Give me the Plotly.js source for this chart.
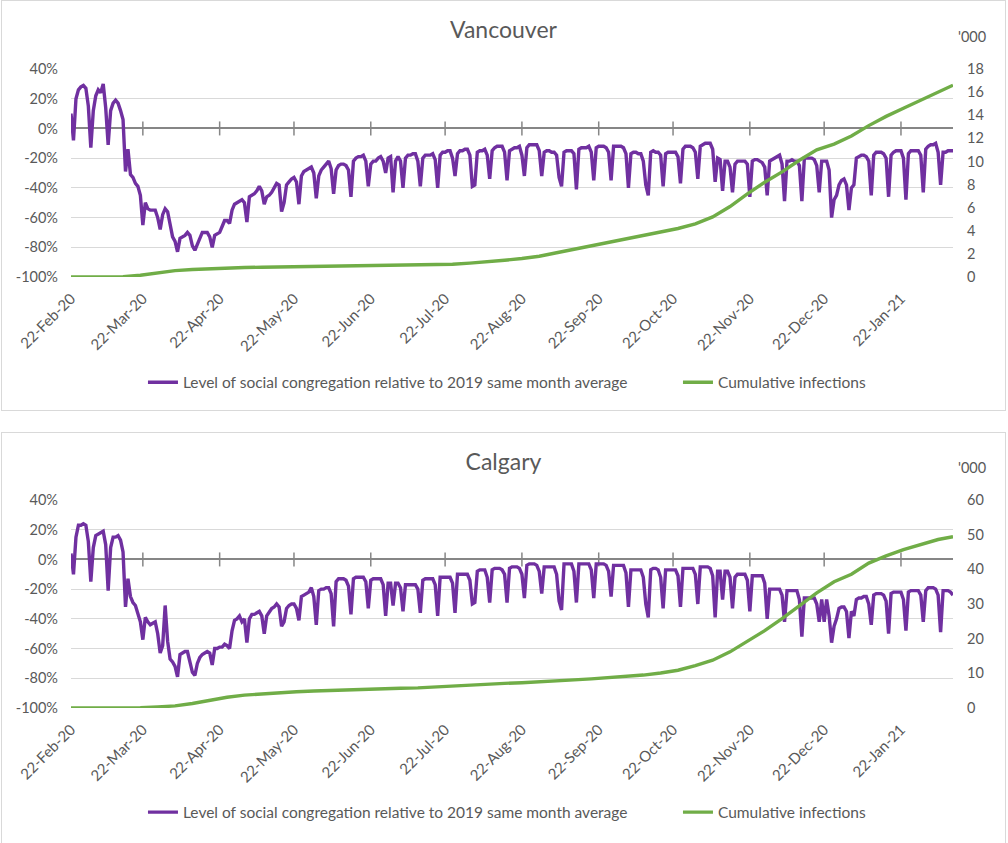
<!DOCTYPE html>
<html><head><meta charset="utf-8">
<script src="https://cdn.plot.ly/plotly-3.0.1.min.js"></script>
<style>
html,body{margin:0;padding:0;background:#fff;width:1008px;height:843px;overflow:hidden;}
.panel{position:absolute;left:1px;width:1005px;box-sizing:border-box;border:1px solid #d9d9d9;background:#fff;}
.panel > div{width:1003px;}
</style></head><body>
<div class="panel" style="top:0;height:411px;"><div id="van" style="height:409px"></div></div>
<div class="panel" style="top:432px;height:412px;"><div id="cal" style="height:410px"></div></div>
<script>
// ---- data ----
const seriesNames = ['Level of social congregation relative to 2019 same month average', 'Cumulative infections'];
const cityTitles = ['Vancouver', 'Calgary'];

// daily values from 22-Feb-2020 (%, relative to 2019 same month average)
const vanCongregation = [
  10, -8, 20, 26, 28, 29, 27,
  15, -13, 12, 22, 26, 24, 30,
  14, -11, 12, 17, 19, 17, 12,
  6, -29, -14, -31, -33, -37, -39,
  -45, -65, -50, -54, -55, -55, -55,
  -60, -68, -58, -54, -56, -66, -73,
  -76, -83, -74, -73, -72, -70, -72,
  -79, -82, -78, -74, -70, -70, -70,
  -73, -80, -72, -71, -70, -66, -62,
  -62, -64, -55, -51, -50, -49, -48,
  -50, -63, -46, -45, -44, -42, -39,
  -42, -51, -46, -45, -43, -40, -37,
  -38, -56, -50, -38, -36, -34, -33,
  -36, -51, -32, -29, -28, -27, -26,
  -30, -47, -32, -28, -26, -24, -22,
  -27, -44, -28, -25, -24, -24, -25,
  -28, -46, -22, -20, -19, -19, -18,
  -22, -39, -24, -22, -22, -20, -19,
  -22, -30, -20, -19, -43, -22, -19,
  -22, -40, -20, -18, -18, -17, -17,
  -22, -39, -20, -18, -18, -18, -17,
  -21, -40, -18, -16, -16, -15, -15,
  -20, -32, -17, -15, -15, -14, -14,
  -18, -39, -38, -16, -15, -15, -14,
  -18, -34, -15, -13, -12, -12, -12,
  -16, -35, -15, -14, -13, -13, -12,
  -18, -32, -13, -11, -11, -11, -11,
  -15, -32, -16, -15, -15, -16, -16,
  -18, -33, -39, -16, -15, -15, -15,
  -17, -41, -14, -13, -13, -13, -12,
  -16, -35, -13, -12, -12, -12, -13,
  -16, -35, -12, -12, -12, -12, -13,
  -17, -40, -17, -16, -16, -17, -17,
  -22, -38, -45, -16, -15, -16, -16,
  -18, -39, -17, -16, -16, -16, -16,
  -19, -37, -14, -12, -12, -12, -13,
  -16, -34, -12, -11, -10, -10, -10,
  -14, -36, -20, -21, -42, -22, -22,
  -26, -43, -24, -22, -22, -22, -22,
  -24, -46, -22, -21, -21, -22, -23,
  -26, -45, -22, -21, -20, -19, -18,
  -24, -49, -22, -22, -21, -22, -22,
  -25, -49, -20, -20, -20, -20, -21,
  -25, -43, -22, -22, -22, -28, -60,
  -48, -45, -38, -35, -34, -38, -55,
  -40, -38, -20, -19, -18, -18, -19,
  -22, -45, -18, -16, -16, -16, -17,
  -20, -46, -18, -16, -15, -15, -15,
  -20, -48, -17, -15, -15, -15, -15,
  -18, -43, -14, -12, -11, -11, -10,
  -16, -38, -16, -16, -15, -15, -15
];

const calCongregation = [
  4, -10, 15, 23, 23, 24, 23,
  12, -15, 8, 16, 17, 18, 19,
  10, -21, 8, 15, 15, 16, 13,
  5, -32, -13, -25, -29, -31, -36,
  -42, -54, -39, -42, -44, -43, -42,
  -50, -63, -58, -31, -55, -67, -69,
  -72, -79, -64, -63, -62, -62, -70,
  -76, -78, -70, -66, -64, -63, -62,
  -63, -71, -60, -60, -59, -59, -57,
  -58, -60, -48, -41, -40, -38, -42,
  -40, -56, -40, -37, -37, -36, -35,
  -38, -50, -38, -35, -33, -32, -30,
  -32, -45, -42, -33, -31, -30, -30,
  -33, -41, -25, -24, -23, -22, -19,
  -25, -44, -21, -20, -20, -19, -19,
  -23, -45, -15, -13, -13, -13, -14,
  -18, -37, -13, -12, -12, -12, -12,
  -15, -33, -14, -13, -13, -13, -13,
  -17, -38, -16, -16, -31, -16, -16,
  -19, -35, -17, -17, -17, -17, -17,
  -20, -36, -14, -13, -13, -13, -13,
  -17, -38, -12, -12, -12, -12, -12,
  -16, -36, -10, -10, -10, -10, -10,
  -14, -30, -29, -8, -7, -7, -7,
  -12, -29, -7, -6, -6, -6, -7,
  -10, -29, -6, -5, -5, -5, -6,
  -10, -26, -4, -3, -3, -3, -4,
  -8, -23, -5, -5, -5, -5, -5,
  -10, -28, -34, -3, -3, -3, -3,
  -8, -29, -3, -3, -3, -3, -3,
  -7, -26, -3, -3, -3, -3, -4,
  -8, -25, -4, -4, -4, -4, -4,
  -9, -32, -7, -7, -7, -7, -7,
  -12, -30, -39, -7, -6, -6, -7,
  -12, -33, -7, -7, -7, -7, -7,
  -11, -32, -6, -6, -6, -6, -6,
  -10, -30, -5, -5, -5, -5, -6,
  -11, -39, -8, -8, -27, -8, -8,
  -12, -33, -12, -10, -10, -10, -10,
  -14, -35, -11, -11, -11, -11, -11,
  -16, -40, -20, -20, -20, -20, -20,
  -24, -42, -21, -21, -21, -21, -21,
  -27, -52, -26, -26, -26, -26, -26,
  -30, -42, -27, -42, -27, -38, -56,
  -45, -40, -33, -32, -32, -35, -53,
  -35, -38, -27, -26, -26, -25, -25,
  -30, -44, -24, -23, -23, -23, -24,
  -28, -50, -23, -22, -22, -22, -22,
  -27, -48, -22, -21, -21, -21, -21,
  -24, -42, -21, -19, -19, -19, -20,
  -24, -49, -21, -21, -21, -22, -24
];

// cumulative infections ('000), days after 22-Feb-2020
const infectionDay = [0, 7, 14, 21, 28, 35, 42, 49, 56, 63, 70, 77, 84, 91, 98, 105, 112, 119, 126, 133,
  140, 147, 154, 161, 168, 175, 182, 189, 196, 203, 210, 217, 224, 231, 238, 245, 252, 259, 266, 273,
  280, 287, 294, 301, 308, 315, 322, 329, 336, 343, 350, 356];
const vanInfections = [0, 0, 0, 0.02, 0.15, 0.35, 0.55, 0.65, 0.72, 0.78, 0.82, 0.85, 0.87, 0.88, 0.9, 0.92, 0.93, 0.95, 0.97, 1.0,
  1.02, 1.05, 1.1, 1.2, 1.3, 1.45, 1.6, 1.8, 2.1, 2.4, 2.7, 3.0, 3.3, 3.6, 3.9, 4.2, 4.6, 5.2, 6.1, 7.2,
  8.2, 9.1, 10.1, 11.0, 11.5, 12.2, 13.1, 13.9, 14.6, 15.3, 16.0, 16.6];
const calInfections = [0, 0, 0, 0, 0.1, 0.3, 0.6, 1.3, 2.2, 3.1, 3.7, 4.1, 4.4, 4.7, 4.9, 5.1, 5.3, 5.5, 5.6, 5.7,
  5.8, 6.1, 6.4, 6.7, 6.9, 7.1, 7.3, 7.5, 7.8, 8.1, 8.4, 8.7, 9.1, 9.5, 10.1, 10.9, 12.2, 13.8, 16.2, 19.2,
  22.3, 25.8, 29.4, 33.2, 36.4, 38.6, 41.8, 43.9, 45.7, 47.2, 48.6, 49.4];

const tickDates = ['2020-02-22', '2020-03-22', '2020-04-22', '2020-05-22', '2020-06-22', '2020-07-22',
  '2020-08-22', '2020-09-22', '2020-10-22', '2020-11-22', '2020-12-22', '2021-01-22'];
const tickLabels = ['22-Feb-20', '22-Mar-20', '22-Apr-20', '22-May-20', '22-Jun-20', '22-Jul-20',
  '22-Aug-20', '22-Sep-20', '22-Oct-20', '22-Nov-20', '22-Dec-20', '22-Jan-21'];
const pctTicks = [-100, -80, -60, -40, -20, 0, 20, 40];
const pctLabels = ['-100%', '-80%', '-60%', '-40%', '-20%', '0%', '20%', '40%'];
const axisCrossing = 0; // category axis crosses the % axis at 0%
const vanRightTicks = [0, 2, 4, 6, 8, 10, 12, 14, 16, 18];
const calRightTicks = [0, 10, 20, 30, 40, 50, 60];
const rightUnit = "'000";

// ---- drawing ----
function dayToDate(n) {
  const d = new Date(Date.UTC(2020, 1, 22 + n));
  return d.toISOString().slice(0, 10);
}
const TXT = '#595959';
const FONT = 'Lato, "Open Sans", sans-serif';
const TICK = 14.5;

function draw(id, title, cong, inf, rightTicks, h, mt, mb, legendGap) {
  const x = cong.map((_, i) => dayToDate(i));
  const xInf = infectionDay.map(dayToDate);
  const xr = [x[0], x[x.length - 1]];
  const plotH = h - mt - mb;
  const traces = [
    // cross tick marks on the axis line at 0%
    {x: tickDates.slice(1), y: tickDates.slice(1).map(() => axisCrossing), type: 'scatter', mode: 'markers',
     marker: {symbol: 'line-ns', size: 10, color: '#868686', line: {color: '#868686', width: 1.5}},
     showlegend: false, hoverinfo: 'skip', cliponaxis: false, xaxis: 'x', yaxis: 'y'},
    {x: x, y: cong, type: 'scatter', mode: 'lines', name: seriesNames[0],
     line: {color: '#7030A0', width: 3.4}, legendwidth: 490, xaxis: 'x', yaxis: 'y', hoverinfo: 'skip'},
    {x: xInf, y: inf, type: 'scatter', mode: 'lines', name: seriesNames[1],
     line: {color: '#70AD47', width: 3.4}, xaxis: 'x', yaxis: 'y2', hoverinfo: 'skip'}
  ];
  const layout = {
    width: 1003, height: h,
    margin: {l: 69, r: 52, t: mt, b: mb, pad: 0},
    paper_bgcolor: '#ffffff', plot_bgcolor: 'rgba(0,0,0,0)',
    font: {family: FONT, size: TICK, color: TXT},
    title: {text: title, x: 0.5, xref: 'container', xanchor: 'center', y: 1 - 29 / h, yref: 'container',
            yanchor: 'middle', font: {family: FONT, size: 23, color: TXT}},
    showlegend: true,
    legend: {orientation: 'h', x: 0.0816, xanchor: 'left', y: -legendGap / plotH, yanchor: 'middle',
             font: {family: FONT, size: 15.5, color: TXT}, bgcolor: 'rgba(0,0,0,0)', borderwidth: 0},
    xaxis: {type: 'date', range: xr, tickmode: 'array', tickvals: tickDates, ticktext: tickLabels,
            tickangle: -45, ticks: '', showgrid: false, zeroline: false, showline: false,
            ticklabelstandoff: 9, tickfont: {family: FONT, size: 15, color: TXT}},
    yaxis: {range: [pctTicks[0], pctTicks[pctTicks.length - 1]], tickmode: 'array', tickvals: pctTicks,
            ticktext: pctLabels, showgrid: true, gridcolor: '#d9d9d9', gridwidth: 1,
            zeroline: true, zerolinecolor: '#868686', zerolinewidth: 2, showline: false, ticks: '',
            ticklabelstandoff: 12, tickfont: {family: FONT, size: TICK, color: TXT}},
    yaxis2: {overlaying: 'y', side: 'right', range: [rightTicks[0], rightTicks[rightTicks.length - 1]],
             tickmode: 'array', tickvals: rightTicks, showgrid: false, zeroline: false, showline: false,
             ticks: '', ticklabelstandoff: 13, tickfont: {family: FONT, size: TICK, color: TXT}},
    annotations: [{text: rightUnit, xref: 'paper', yref: 'paper', x: 1, y: 1, xanchor: 'left',
                   yanchor: 'middle', xshift: 3, yshift: 33, showarrow: false,
                   font: {family: FONT, size: TICK, color: TXT}}]
  };
  Plotly.newPlot(id, traces, layout, {displayModeBar: false, staticPlot: true});
}

draw('van', cityTitles[0], vanCongregation, vanInfections, vanRightTicks, 409, 68.3, 132.3, 104.3);
draw('cal', cityTitles[1], calCongregation, calInfections, calRightTicks, 410, 67, 134.7, 104.7);
</script>
</body></html>
